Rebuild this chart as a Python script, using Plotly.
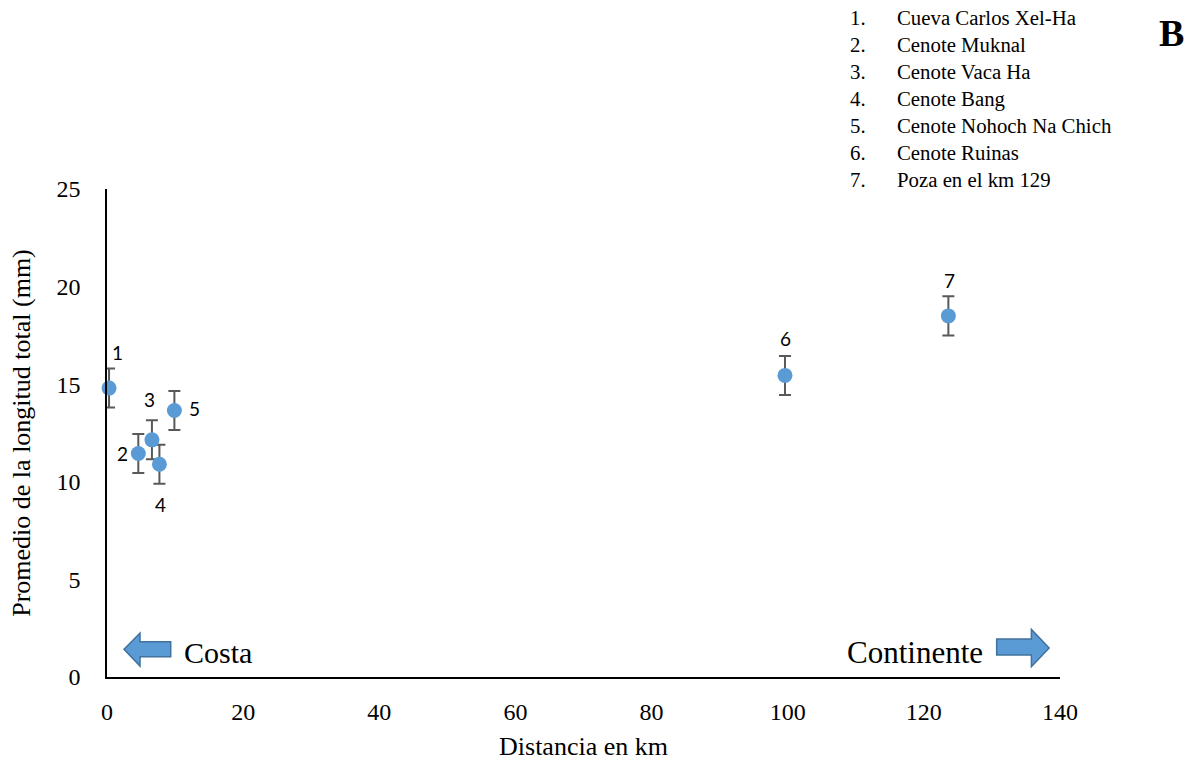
import plotly.graph_objects as go

# Sites (numbered as in the key) with distance from the coast and mean total length
site_ids = ["1", "2", "3", "4", "5", "6", "7"]
site_names = [
    "Cueva Carlos Xel-Ha",
    "Cenote Muknal",
    "Cenote Vaca Ha",
    "Cenote Bang",
    "Cenote Nohoch Na Chich",
    "Cenote Ruinas",
    "Poza en el km 129",
]
distance_km = [0.3, 4.6, 6.6, 7.7, 9.9, 99.6, 123.6]
mean_length_mm = [14.8, 11.45, 12.15, 10.9, 13.65, 15.45, 18.5]
error_mm = [1.0, 1.0, 1.0, 1.0, 1.0, 1.0, 1.0]

# Pixel offsets of each numeric label relative to its point
label_dx = [8, -16, -2, 1, 20, 1, 1]
label_dy = [36, 0, 40, -40, 2, 37, 35]

x_ticks = [0, 20, 40, 60, 80, 100, 120, 140]
y_ticks = [0, 5, 10, 15, 20, 25]

SERIF = "Liberation Serif"
BLUE = "#5B9BD5"
BLUE_EDGE = "#41719C"

fig = go.Figure()
fig.add_trace(go.Scatter(
    x=distance_km,
    y=mean_length_mm,
    mode="markers",
    marker=dict(size=15, color=BLUE),
    error_y=dict(type="data", array=error_mm, visible=True,
                 color="#595959", thickness=2, width=6),
    cliponaxis=False,
    showlegend=False,
    hoverinfo="x+y",
))

annotations = []
for sid, xv, yv, dx, dy in zip(site_ids, distance_km, mean_length_mm, label_dx, label_dy):
    annotations.append(dict(
        x=xv, y=yv, xref="x", yref="y", text=sid, showarrow=False,
        xshift=dx, yshift=dy, font=dict(family="Lato", size=19, color="#000000"),
    ))

# Key listing the site names
annotations.append(dict(
    x=(848 - 107) / 953, y=(677 - 4) / 488, xref="paper", yref="paper",
    xanchor="left", yanchor="top", align="left", showarrow=False,
    text="<br>".join(f"{s}." for s in site_ids),
    font=dict(family=SERIF, size=20.8, color="#000000"),
))
annotations.append(dict(
    x=(895 - 107) / 953, y=(677 - 4) / 488, xref="paper", yref="paper",
    xanchor="left", yanchor="top", align="left", showarrow=False,
    text="<br>".join(site_names),
    font=dict(family=SERIF, size=20.8, color="#000000"),
))
annotations.append(dict(
    x=(1171 - 107) / 953, y=(677 - 33) / 488, xref="paper", yref="paper",
    xanchor="center", yanchor="middle", showarrow=False,
    text="<b>B</b>", font=dict(family=SERIF, size=38, color="#000000"),
))

# Direction captions
annotations.append(dict(
    x=11.0, y=1.28, xref="x", yref="y", xanchor="left", yanchor="middle",
    text="Costa", showarrow=False, font=dict(family=SERIF, size=30, color="#000000"),
))
annotations.append(dict(
    x=129.0, y=1.28, xref="x", yref="y", xanchor="right", yanchor="middle",
    text="Continente", showarrow=False, font=dict(family=SERIF, size=31, color="#000000"),
))

shapes = [
    # block arrow pointing towards the coast
    dict(type="path", xref="x", yref="y",
         path="M 2.5 1.42 L 4.85 2.25 L 4.85 1.81 L 9.36 1.81 L 9.36 1.04 L 4.85 1.04 L 4.85 0.56 Z",
         fillcolor=BLUE, line=dict(color=BLUE_EDGE, width=1.5), layer="above"),
    # block arrow pointing inland
    dict(type="path", xref="x", yref="y",
         path="M 138.4 1.49 L 135.8 2.44 L 135.8 1.95 L 130.7 1.95 L 130.7 1.13 L 135.8 1.13 L 135.8 0.53 Z",
         fillcolor=BLUE, line=dict(color=BLUE_EDGE, width=1.5), layer="above"),
]

fig.update_layout(
    width=1193, height=761,
    margin=dict(l=107, r=133, t=189, b=84, autoexpand=False),
    paper_bgcolor="white", plot_bgcolor="white",
    annotations=annotations, shapes=shapes,
    xaxis=dict(
        range=[0, 140], tickvals=x_ticks, showgrid=False, zeroline=False,
        showline=True, linecolor="#000000", linewidth=1.5,
        ticks="outside", ticklen=12, tickcolor="rgba(0,0,0,0)",
        tickfont=dict(family=SERIF, size=24, color="#000000"),
        title=dict(text="Distancia en km", standoff=14,
                   font=dict(family=SERIF, size=26, color="#000000")),
    ),
    yaxis=dict(
        range=[0, 25], tickvals=y_ticks, showgrid=False, zeroline=False,
        showline=True, linecolor="#000000", linewidth=1.5,
        ticks="outside", ticklen=20, tickcolor="rgba(0,0,0,0)",
        tickfont=dict(family=SERIF, size=24, color="#000000"),
        title=dict(text="Promedio de la longitud total (mm)", standoff=18,
                   font=dict(family=SERIF, size=26, color="#000000")),
    ),
)

fig.write_html("out.html")
